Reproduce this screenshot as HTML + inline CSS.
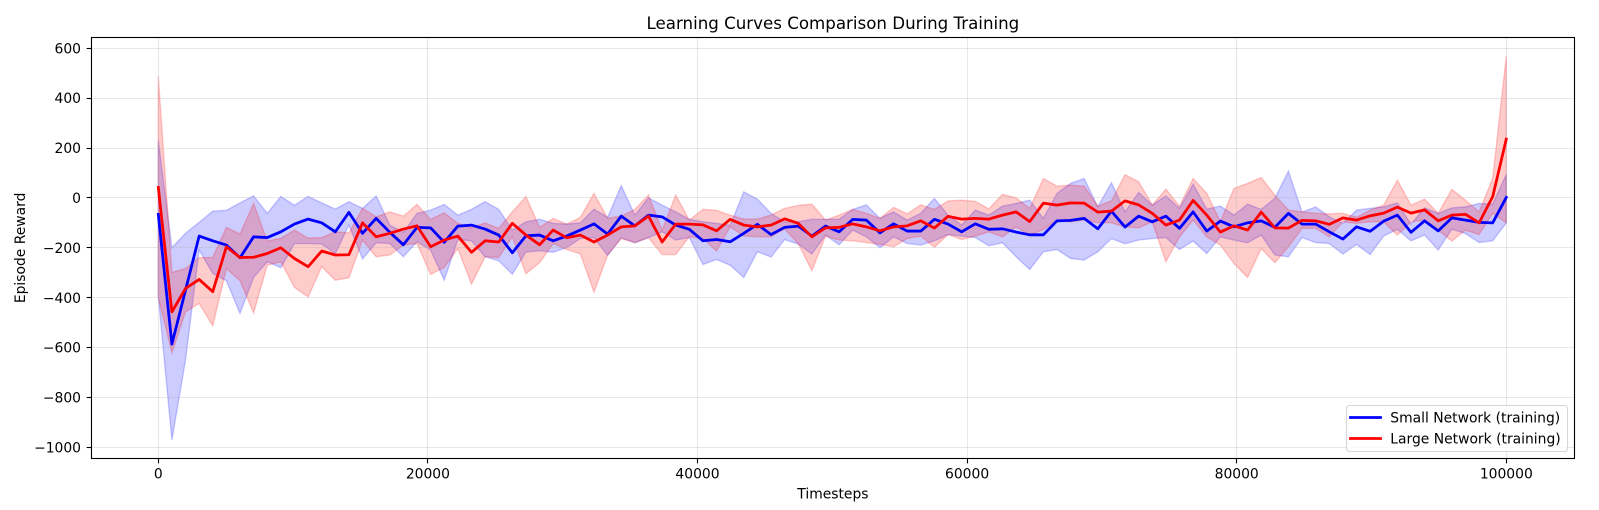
<!DOCTYPE html>
<html lang="en">
<head>
<meta charset="utf-8">
<title>Learning Curves Comparison During Training</title>
<style>
html,body{margin:0;padding:0;background:#fff;}
body{width:1599px;height:510px;overflow:hidden;}
svg{display:block;}
text{font-family:"DejaVu Sans","Liberation Sans",sans-serif;fill:#000;}
</style>
</head>
<body>
<svg id="chart" xmlns="http://www.w3.org/2000/svg" width="1599" height="510" viewBox="0 0 1599 510"></svg>
<script>
const timesteps = [0,1010,2020,3030,4040,5051,6061,7071,8081,9091,10101,11111,12121,13131,14141,15152,16162,17172,18182,19192,20202,21212,22222,23232,24242,25253,26263,27273,28283,29293,30303,31313,32323,33333,34343,35354,36364,37374,38384,39394,40404,41414,42424,43434,44444,45455,46465,47475,48485,49495,50505,51515,52525,53535,54545,55556,56566,57576,58586,59596,60606,61616,62626,63636,64646,65657,66667,67677,68687,69697,70707,71717,72727,73737,74747,75758,76768,77778,78788,79798,80808,81818,82828,83838,84848,85859,86869,87879,88889,89899,90909,91919,92929,93939,94949,95960,96970,97980,98990,100000];
const smallMean = [-66,-586,-370,-153,-172,-189,-240,-156,-159,-136,-105,-85,-100,-136,-58,-142,-82,-138,-188,-118,-120,-178,-113,-109,-125,
-149,-220,-152,-149,-172,-153,-129,-104,-145,-73,-112,-69,-76,-109,-126,-172,-167,-176,-142,-106,-147,-118,-113,-153,-113,
-136,-86,-89,-140,-104,-133,-133,-86,-105,-136,-104,-126,-124,-137,-148,-148,-92,-90,-82,-124,-53,-117,-73,-96,-73,
-122,-56,-133,-93,-116,-100,-92,-118,-62,-105,-105,-136,-165,-116,-134,-93,-69,-138,-92,-132,-80,-89,-98,-100,2];
const smallUpper = [232,-200,-142,-98,-53,-50,-20,8,-62,6,-30,6,-20,-45,-15,-42,8,-109,-138,-62,-49,-26,-69,-46,-15,
-46,-129,-96,-86,-102,-105,-100,-45,-78,49,-69,0,-29,-56,-86,-96,-102,-110,24,-5,-62,-96,-96,-86,-86,
-86,-46,-28,-82,-56,-89,-62,-2,-69,-109,-49,-69,-33,-22,-9,-82,18,58,78,-36,61,-56,22,-29,8,
-42,55,-45,-33,-69,-25,-46,-2,107,-57,-36,-76,-102,-49,-42,-36,-20,-105,-40,-62,-40,-36,-22,-25,95];
const smallLower = [-396,-971,-650,-209,-303,-332,-463,-319,-256,-280,-183,-183,-185,-223,-109,-244,-180,-183,-236,-176,-209,-330,-167,-172,-236,
-252,-306,-217,-212,-218,-199,-163,-159,-231,-160,-180,-159,-136,-169,-159,-267,-247,-270,-319,-216,-237,-167,-185,-225,-149,
-188,-129,-156,-200,-156,-183,-189,-172,-147,-153,-159,-192,-180,-236,-287,-216,-207,-243,-249,-216,-163,-184,-169,-163,-159,
-207,-173,-223,-156,-169,-180,-149,-229,-236,-159,-179,-183,-225,-187,-227,-153,-126,-172,-149,-209,-125,-143,-179,-172,-100];
const largeMean = [42,-457,-363,-327,-376,-196,-239,-238,-223,-200,-243,-276,-213,-229,-228,-100,-156,-142,-125,-112,-196,-169,-153,-218,-172,
-177,-102,-149,-188,-129,-160,-149,-177,-149,-116,-112,-73,-177,-105,-105,-108,-132,-86,-109,-116,-109,-84,-102,-156,-120,
-118,-104,-116,-132,-116,-112,-92,-121,-74,-85,-82,-85,-69,-56,-95,-21,-29,-20,-21,-57,-53,-12,-28,-62,-109,
-89,-10,-69,-137,-112,-129,-57,-120,-121,-90,-92,-106,-80,-89,-72,-61,-37,-61,-48,-92,-69,-66,-100,5,236];
const largeUpper = [488,-299,-283,-239,-239,-118,-145,-22,-173,-162,-129,-161,-159,-136,-140,-42,-76,-56,-73,-26,-86,-60,-102,-120,-100,
-122,-56,5,-118,-82,-105,-78,18,-82,-73,-46,11,-129,11,-89,-46,-50,-69,-85,-85,-69,-42,-30,-25,-89,
-69,-46,-62,-82,-38,-64,-28,-46,-12,-9,-14,-44,14,0,-42,78,47,51,47,-33,-12,93,65,-29,35,
-33,78,18,-95,38,58,82,11,-49,-56,-62,-64,-62,-78,-49,-29,71,-29,-5,-62,34,-9,-56,78,569];
const largeLower = [-400,-621,-457,-423,-513,-283,-332,-461,-270,-256,-359,-397,-276,-330,-320,-169,-236,-229,-189,-183,-307,-279,-203,-346,-236,
-239,-156,-304,-260,-183,-207,-225,-378,-229,-163,-179,-160,-227,-227,-156,-163,-213,-116,-153,-156,-156,-125,-183,-292,-153,
-169,-172,-179,-186,-196,-163,-153,-198,-147,-167,-153,-136,-156,-116,-149,-126,-92,-96,-89,-100,-100,-116,-120,-96,-256,
-156,-89,-156,-189,-263,-319,-203,-260,-196,-122,-122,-156,-96,-102,-96,-96,-149,-96,-89,-129,-173,-129,-147,-62,-100];
const xTicks = [0,20000,40000,60000,80000,100000];
const yTicks = [600,400,200,0,-200,-400,-600,-800,-1000];

const NS = 'http://www.w3.org/2000/svg';
const svg = document.getElementById('chart');
const plot = {left:91.5, right:1574.5, top:37.5, bottom:458.5};
function xScale(v){ return 158.3 + v * 0.01348; }
function yScale(v){ return 197.9 - v * 0.2494; }
function snap(p){ return Math.floor(p) + 0.5; }
function make(tag, attrs, text){
  const node = document.createElementNS(NS, tag);
  for (const k in attrs) node.setAttribute(k, attrs[k]);
  if (text !== undefined) node.textContent = text;
  svg.appendChild(node);
  return node;
}
function label(v){ return String(v).replace('-', '\u2212'); }
function bandPoints(upper, lower){
  const top = timesteps.map((t,i)=>xScale(t).toFixed(2)+','+yScale(upper[i]).toFixed(2));
  const bot = timesteps.map((t,i)=>xScale(t).toFixed(2)+','+yScale(lower[i]).toFixed(2)).reverse();
  return top.concat(bot).join(' ');
}
function linePoints(values){
  return timesteps.map((t,i)=>xScale(t).toFixed(2)+','+yScale(values[i]).toFixed(2)).join(' ');
}

const smallBand = make('polygon',{points:bandPoints(smallUpper,smallLower),fill:'#0000ff','fill-opacity':0.2,stroke:'#0000ff','stroke-opacity':0.2,'stroke-width':1.39});


const largeBand = make('polygon',{points:bandPoints(largeUpper,largeLower),fill:'#ff0000','fill-opacity':0.2,stroke:'#ff0000','stroke-opacity':0.2,'stroke-width':1.39});



xTicks.forEach(function(t){
  const x = snap(xScale(t));
  const grid = make('line',{x1:x,x2:x,y1:plot.top,y2:plot.bottom,stroke:'#b0b0b0','stroke-opacity':0.3,'stroke-width':1.11});
  
  
  const tick = make('line',{x1:x,x2:x,y1:plot.bottom,y2:plot.bottom+4.86,stroke:'#000','stroke-width':1.11});
  
  
  const txt = make('text',{x:xScale(t),y:478.7,'text-anchor':'middle','font-size':13.89},label(t));
  
  
});
yTicks.forEach(function(v){
  const y = snap(yScale(v));
  const grid = make('line',{x1:plot.left,x2:plot.right,y1:y,y2:y,stroke:'#b0b0b0','stroke-opacity':0.3,'stroke-width':1.11});
  
  
  const tick = make('line',{x1:plot.left-4.86,x2:plot.left,y1:y,y2:y,stroke:'#000','stroke-width':1.11});
  
  
  const txt = make('text',{x:81,y:yScale(v)+5.1,'text-anchor':'end','font-size':13.89},label(v));
  
  
});

const smallLine = make('polyline',{points:linePoints(smallMean),fill:'none',stroke:'#0000ff','stroke-width':2.78,'stroke-linejoin':'round','stroke-linecap':'square'});


const largeLine = make('polyline',{points:linePoints(largeMean),fill:'none',stroke:'#ff0000','stroke-width':2.78,'stroke-linejoin':'round','stroke-linecap':'square'});



const frame = make('rect',{x:plot.left,y:plot.top,width:plot.right-plot.left,height:plot.bottom-plot.top,fill:'none',stroke:'#000','stroke-width':1.11});



const title = make('text',{x:832.9,y:29.2,'text-anchor':'middle','font-size':16.67},'Learning Curves Comparison During Training');


const xTitle = make('text',{x:832.9,y:498.7,'text-anchor':'middle','font-size':13.89},'Timesteps');


const yTitle = make('text',{x:0,y:0,'text-anchor':'middle','font-size':13.89,transform:'translate(25 247.9) rotate(-90)'},'Episode Reward');



const legendBox = make('rect',{x:1346.5,y:405.5,width:221,height:46,rx:3,ry:3,fill:'#fff','fill-opacity':0.8,stroke:'#cccccc','stroke-opacity':0.8,'stroke-width':1.11});


const legendSwatchSmall = make('line',{x1:1350.5,x2:1380.5,y1:417.5,y2:417.5,stroke:'#0000ff','stroke-width':2.78,'stroke-linecap':'square'});


const legendTextSmall = make('text',{x:1390.3,y:422.4,'font-size':13.89},'Small Network (training)');


const legendSwatchLarge = make('line',{x1:1350.5,x2:1380.5,y1:438.5,y2:438.5,stroke:'#ff0000','stroke-width':2.78,'stroke-linecap':'square'});


const legendTextLarge = make('text',{x:1390.3,y:443.4,'font-size':13.89},'Large Network (training)');


</script>
</body>
</html>
